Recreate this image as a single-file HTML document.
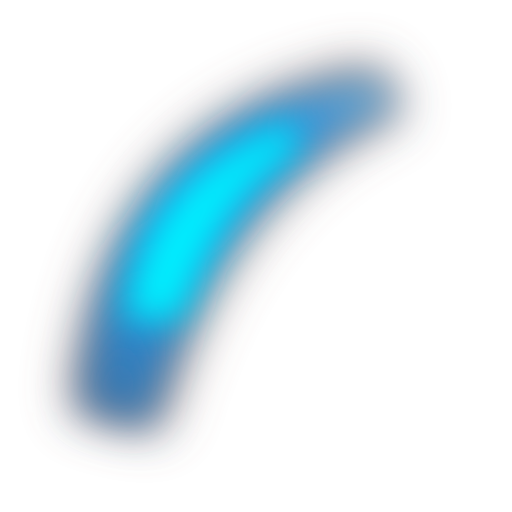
<!DOCTYPE html>
<html>
<head>
<meta charset="utf-8">
<style>
  html, body { margin: 0; padding: 0; background: #ffffff; }
  body { width: 512px; height: 512px; overflow: hidden; font-family: "Liberation Sans", sans-serif; }
  svg { display: block; }
</style>
</head>
<body>
<svg id="chart" width="512" height="512" viewBox="0 0 512 512">
  <defs>
    <filter id="b1" x="-50%" y="-50%" width="200%" height="200%"><feGaussianBlur stdDeviation="26"/></filter>
    <filter id="b2" x="-50%" y="-50%" width="200%" height="200%"><feGaussianBlur stdDeviation="20"/></filter>
    <filter id="b3" x="-50%" y="-50%" width="200%" height="200%"><feGaussianBlur stdDeviation="17"/></filter>
    <linearGradient id="bodyGrad" x1="110" y1="420" x2="390" y2="90" gradientUnits="userSpaceOnUse">
      <stop offset="0" stop-color="#3f73a6"/>
      <stop offset="0.22" stop-color="#2a86cc"/>
      <stop offset="0.4" stop-color="#189ce8"/>
      <stop offset="0.75" stop-color="#1f8fe0"/>
      <stop offset="1" stop-color="#6aa4cc"/>
    </linearGradient>
  </defs>
  <g id="layers"></g>
</svg>
<script>
// Crescent outline: outer edge (start, control, end) then inner edge back
const outerX = [80, 105, 375];
const outerY = [410, 120, 74];
const innerX = [400, 215, 150];
const innerY = [108, 175, 428];
const haloOuterX = [72, 95, 375];
const haloOuterY = [410, 110, 64];
const haloInnerX = [405, 225, 160];
const haloInnerY = [112, 185, 432];
const coreOuterX = [125, 148, 295];
const coreOuterY = [320, 170, 122];
const coreInnerX = [295, 218, 180];
const coreInnerY = [152, 198, 318];

function crescent(ox, oy, ix, iy) {
  return 'M' + ox[0] + ',' + oy[0] + ' Q' + ox[1] + ',' + oy[1] + ' ' + ox[2] + ',' + oy[2] +
         ' L' + ix[0] + ',' + iy[0] + ' Q' + ix[1] + ',' + iy[1] + ' ' + ix[2] + ',' + iy[2] + ' Z';
}

const layers = [
  { d: crescent(haloOuterX, haloOuterY, haloInnerX, haloInnerY), fill: '#7a5a55', filter: 'b1', opacity: 0.75, name: 'outer-halo' },
  { d: crescent(outerX, outerY, innerX, innerY), fill: 'url(#bodyGrad)', filter: 'b2', opacity: 1, name: 'blue-body' },
  { d: crescent(coreOuterX, coreOuterY, coreInnerX, coreInnerY), fill: '#00f0ff', filter: 'b3', opacity: 1, name: 'cyan-core' }
];

const g = document.getElementById('layers');
layers.forEach(function (l) {
  const p = document.createElementNS('http://www.w3.org/2000/svg', 'path');
  p.setAttribute('d', l.d);
  p.setAttribute('fill', l.fill);
  p.setAttribute('stroke', 'none');
  p.setAttribute('opacity', l.opacity);
  p.setAttribute('filter', 'url(#' + l.filter + ')');
  
  
  g.appendChild(p);
});
</script>
</body>
</html>
